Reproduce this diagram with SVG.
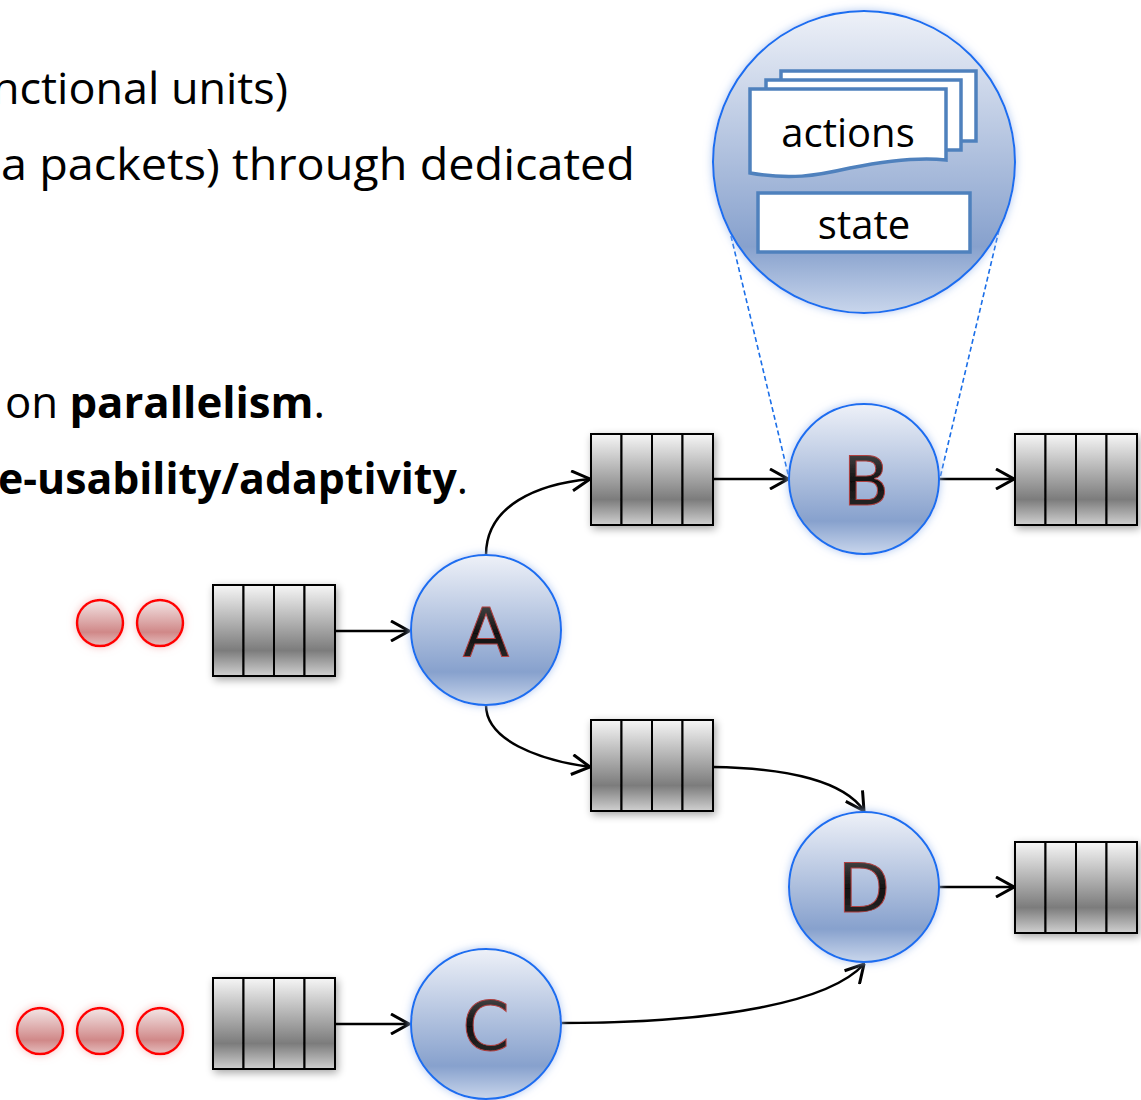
<svg xmlns="http://www.w3.org/2000/svg" xmlns:xlink="http://www.w3.org/1999/xlink" width="1141" height="1100" viewBox="0 0 1141 1100">
  <style>
    .txt { font-family: "Open Sans", Lato, "Liberation Sans", sans-serif; font-size: 43px; fill: #000; font-variant-ligatures: none; }
    .b { font-weight: bold; }
    .edge { fill: none; stroke: #000; stroke-width: 2.5; }
    .cell { fill: url(#cellGrad); stroke: #000; stroke-width: 2; }
    .node { fill: url(#nodeGrad); stroke: #1a6ef0; stroke-width: 2; }
    .letter { font-family: "DejaVu Sans", sans-serif; font-size: 68px; fill: url(#letterGrad); stroke: #b04040; stroke-width: 1; text-anchor: middle; }
    .token { fill: url(#tokenGrad); stroke: #ff0000; stroke-width: 2.5; }
    .doc { fill: #fff; stroke: #4f81bd; stroke-width: 3.5; }
    .inner { font-family: "Open Sans", Lato, "Liberation Sans", sans-serif; font-size: 40px; fill: #000; text-anchor: middle; font-variant-ligatures: none; }
    .zoomline { fill: none; stroke: #1a6ee8; stroke-width: 1.6; stroke-dasharray: 5 3; }
  </style>
  <defs>
    <linearGradient id="cellGrad" x1="0" y1="0" x2="0" y2="1">
      <stop offset="0" stop-color="#f6f6f6"/>
      <stop offset="0.72" stop-color="#7c7c7c"/>
      <stop offset="1" stop-color="#d0d0d0"/>
    </linearGradient>
    <linearGradient id="nodeGrad" x1="0" y1="0" x2="0" y2="1">
      <stop offset="0" stop-color="#eef1f8"/>
      <stop offset="0.78" stop-color="#87a1cd"/>
      <stop offset="1" stop-color="#c9d6ec"/>
    </linearGradient>
    <linearGradient id="tokenGrad" x1="0" y1="0" x2="0" y2="1">
      <stop offset="0" stop-color="#f3e6e6"/>
      <stop offset="0.7" stop-color="#d08888"/>
      <stop offset="1" stop-color="#e6c0c0"/>
    </linearGradient>
    <linearGradient id="letterGrad" x1="0" y1="0" x2="0" y2="1">
      <stop offset="0" stop-color="#555"/>
      <stop offset="0.5" stop-color="#111"/>
      <stop offset="1" stop-color="#333"/>
    </linearGradient>
    <filter id="glow" x="-20%" y="-20%" width="140%" height="140%">
      <feGaussianBlur in="SourceAlpha" stdDeviation="4" result="b"/>
      <feFlood flood-color="#a9c3f0" flood-opacity="0.9"/>
      <feComposite in2="b" operator="in" result="g"/>
      <feMerge><feMergeNode in="g"/><feMergeNode in="SourceGraphic"/></feMerge>
    </filter>
    <filter id="redglow" x="-40%" y="-40%" width="180%" height="180%">
      <feGaussianBlur in="SourceAlpha" stdDeviation="4" result="b"/>
      <feFlood flood-color="#f3b0b0" flood-opacity="0.8"/>
      <feComposite in2="b" operator="in" result="g"/>
      <feMerge><feMergeNode in="g"/><feMergeNode in="SourceGraphic"/></feMerge>
    </filter>
    <filter id="shadow" x="-20%" y="-20%" width="140%" height="140%">
      <feGaussianBlur in="SourceAlpha" stdDeviation="4" result="b"/>
      <feOffset dx="2" dy="3" result="o"/>
      <feComponentTransfer in="o" result="s"><feFuncA type="linear" slope="0.35"/></feComponentTransfer>
      <feMerge><feMergeNode in="s"/><feMergeNode in="SourceGraphic"/></feMerge>
    </filter>
    <marker id="arrow" viewBox="0 0 20 22" refX="19" refY="11" markerWidth="20" markerHeight="22" markerUnits="userSpaceOnUse" orient="auto">
      <path d="M1,1 L19,11 L1,21" fill="none" stroke="#000" stroke-width="3"/>
    </marker>
    <!-- four-slot buffer -->
    <g id="queue" filter="url(#shadow)">
      <rect class="cell" x="0" y="0" width="30.5" height="91"/>
      <rect class="cell" x="30.5" y="0" width="30.5" height="91"/>
      <rect class="cell" x="61" y="0" width="30.5" height="91"/>
      <rect class="cell" x="91.5" y="0" width="30.5" height="91"/>
    </g>
  </defs>

  <!-- bullet text -->
  <g id="text">
    <text class="txt" x="-8" y="104" textLength="296" lengthAdjust="spacingAndGlyphs">nctional units)</text>
    <text class="txt" x="1" y="180" textLength="634" lengthAdjust="spacingAndGlyphs">a packets) through dedicated</text>
    <text class="txt" x="5" y="418" textLength="320" lengthAdjust="spacingAndGlyphs">on <tspan class="b">parallelism</tspan>.</text>
    <text class="txt" x="-2" y="494" textLength="470" lengthAdjust="spacingAndGlyphs"><tspan class="b">e-usability/adaptivity</tspan>.</text>
  </g>

  <!-- connectors -->
  <g id="connectors">
    <line class="edge" x1="335" y1="631" x2="409" y2="631" marker-end="url(#arrow)"/>
    <path class="edge" d="M486,555 C486,505 538,484 590,479" marker-end="url(#arrow)"/>
    <path class="edge" d="M486,705 C486,740 538,760 590,767" marker-end="url(#arrow)"/>
    <line class="edge" x1="713" y1="479" x2="788" y2="479" marker-end="url(#arrow)"/>
    <line class="edge" x1="939" y1="479" x2="1014" y2="479" marker-end="url(#arrow)"/>
    <path class="edge" d="M713,767 C790,768 845,782 864,811" marker-end="url(#arrow)"/>
    <line class="edge" x1="939" y1="887" x2="1014" y2="887" marker-end="url(#arrow)"/>
    <line class="edge" x1="335" y1="1024" x2="409" y2="1024" marker-end="url(#arrow)"/>
    <path class="edge" d="M561,1023 C720,1023 830,1002 864,964" marker-end="url(#arrow)"/>
    <line class="zoomline" x1="731" y1="236" x2="789" y2="478"/>
    <line class="zoomline" x1="999" y1="230" x2="940" y2="478"/>
  </g>

  <!-- incoming tokens -->
  <g id="tokens-a" filter="url(#redglow)">
    <circle class="token" cx="100" cy="623" r="23"/>
    <circle class="token" cx="160" cy="623" r="23"/>
  </g>
  <g id="tokens-c" filter="url(#redglow)">
    <circle class="token" cx="40" cy="1031" r="23"/>
    <circle class="token" cx="100" cy="1031" r="23"/>
    <circle class="token" cx="160" cy="1031" r="23"/>
  </g>

  <!-- buffers -->
  <g id="queue-a-in"><use xlink:href="#queue" x="213" y="585"/></g>
  <g id="queue-b-in"><use xlink:href="#queue" x="591" y="434"/></g>
  <g id="queue-b-out"><use xlink:href="#queue" x="1015" y="434"/></g>
  <g id="queue-d-in"><use xlink:href="#queue" x="591" y="720"/></g>
  <g id="queue-d-out"><use xlink:href="#queue" x="1015" y="842"/></g>
  <g id="queue-c-in"><use xlink:href="#queue" x="213" y="978"/></g>

  <!-- actors -->
  <g id="node-a" filter="url(#glow)">
    <circle class="node" cx="486" cy="630" r="75"/>
    <text class="letter" x="486" y="657">A</text>
  </g>
  <g id="node-b" filter="url(#glow)">
    <circle class="node" cx="864" cy="479" r="75"/>
    <text class="letter" x="866" y="505">B</text>
  </g>
  <g id="node-d" filter="url(#glow)">
    <circle class="node" cx="864" cy="887" r="75"/>
    <text class="letter" x="864" y="912">D</text>
  </g>
  <g id="node-c" filter="url(#glow)">
    <circle class="node" cx="486" cy="1024" r="75"/>
    <text class="letter" x="486" y="1050">C</text>
  </g>

  <!-- magnified actor internals -->
  <g id="node-b-detail" filter="url(#glow)">
    <circle class="node" cx="864" cy="162" r="151"/>
  </g>
  <g id="actions">
    <rect class="doc" x="781" y="71" width="195" height="70"/>
    <rect class="doc" x="766" y="80" width="195" height="70"/>
    <path class="doc" d="M750,89 H946 V160 C920,157 890,160 850,168 C815,176 790,180 750,173 Z"/>
    <text class="inner" x="848" y="147">actions</text>
  </g>
  <g id="state">
    <rect class="doc" x="758" y="193" width="212" height="59"/>
    <text class="inner" x="864" y="239">state</text>
  </g>
</svg>
